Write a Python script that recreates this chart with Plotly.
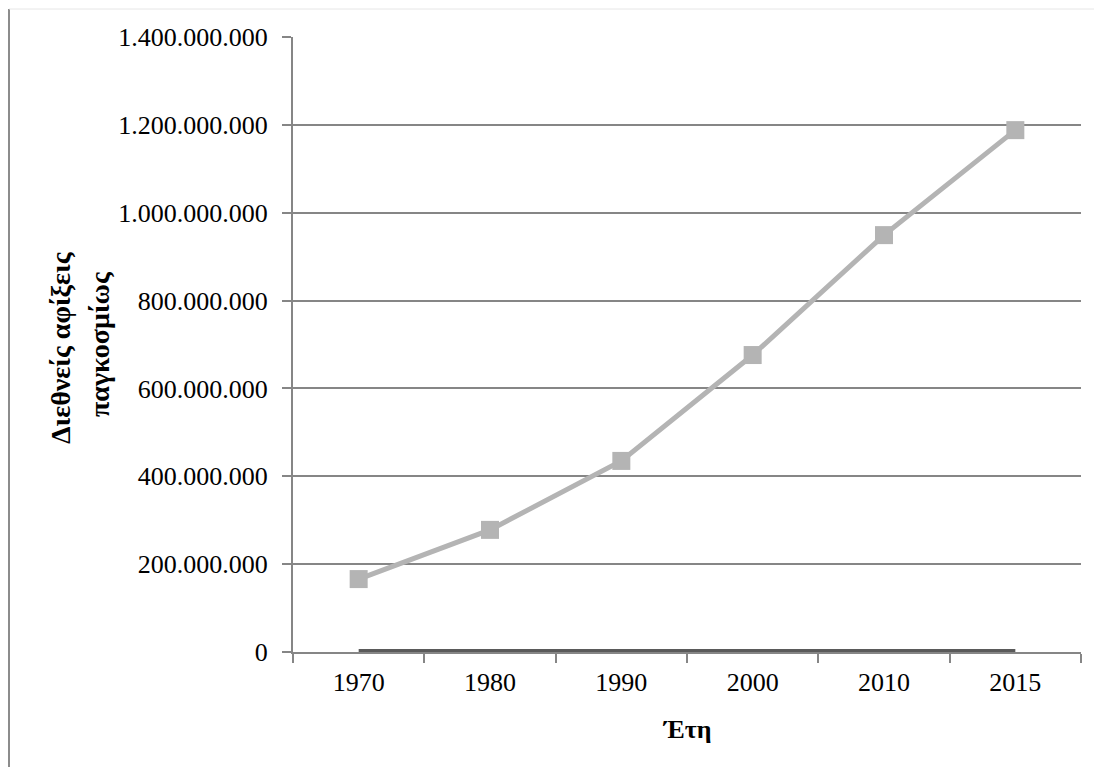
import plotly.graph_objects as go

years = ["1970", "1980", "1990", "2000", "2010", "2015"]
arrivals = [166000000, 278000000, 435000000, 676000000, 949000000, 1188000000]
baseline = [0, 0, 0, 0, 0, 0]
y_ticks = [0, 200000000, 400000000, 600000000, 800000000, 1000000000, 1200000000, 1400000000]
y_title_lines = ["Διεθνείς αφίξεις", "παγκοσμίως"]

FONT = "Liberation Serif, Times New Roman, serif"

# page body has an 8px margin; figure coordinates are offset by it
OFF = 8
W, H = 1102, 767
L, R, T, B = 293 - OFF, W - (1081 - OFF), 37 - OFF, H - (652 - OFF)
PW, PH = W - L - R, H - T - B


def px(x):
    return (x - OFF - L) / PW


def py(y):
    return (H - B - (y - OFF)) / PH


fig = go.Figure()
fig.add_trace(go.Scatter(
    x=years, y=baseline, mode="lines",
    line=dict(color="#5a5a5a", width=6),
    showlegend=False, cliponaxis=False,
))
fig.add_trace(go.Scatter(
    x=years, y=arrivals, mode="lines+markers",
    line=dict(color="#b4b4b4", width=5),
    marker=dict(symbol="square", size=18, color="#b4b4b4"),
    showlegend=False, cliponaxis=False,
))

fig.update_layout(
    width=W, height=H,
    margin=dict(l=L, r=R, t=T, b=B),
    paper_bgcolor="white", plot_bgcolor="white",
    separators=",.",
    font=dict(family=FONT, size=26, color="black"),
    xaxis=dict(
        type="category", tickson="boundaries", range=[-0.5, 5.5],
        showline=True, linecolor="#868686", linewidth=2,
        ticks="outside", ticklen=9, tickcolor="#868686", tickwidth=2,
        showgrid=False, zeroline=False, layer="below traces",
        ticklabelstandoff=6,
        tickfont=dict(family=FONT, size=26),
    ),
    yaxis=dict(
        range=[0, 1400000000], tickvals=y_ticks, tickformat=",d",
        showline=True, linecolor="#868686", linewidth=2,
        ticks="outside", ticklen=9, tickcolor="#868686", tickwidth=2,
        showgrid=True, gridcolor="#868686", gridwidth=2,
        zeroline=False, layer="below traces",
        ticklabelstandoff=9,
        tickfont=dict(family=FONT, size=26),
    ),
)

for txt, xc, yc in zip(y_title_lines, [60, 99], [347, 344]):
    fig.add_annotation(
        text="<b>" + txt + "</b>",
        xref="paper", yref="paper",
        x=px(xc), y=py(yc),
        showarrow=False, textangle=-90,
        font=dict(family=FONT, size=28, color="black"),
        xanchor="center", yanchor="middle",
    )
fig.add_annotation(
    text="<b>Έτη</b>",
    xref="paper", yref="paper",
    x=px(687), y=py(729),
    showarrow=False,
    font=dict(family=FONT, size=26, color="black"),
    xanchor="center", yanchor="middle",
)

# outer chart border (partially visible)
fig.add_shape(type="line", xref="paper", yref="paper",
              x0=px(9), x1=px(9), y0=py(9), y1=py(780),
              line=dict(color="#8c8c8c", width=2))
fig.add_shape(type="line", xref="paper", yref="paper",
              x0=px(9), x1=px(1110), y0=py(9), y1=py(9),
              line=dict(color="#e6e6e6", width=1))

fig.write_html("out.html")
